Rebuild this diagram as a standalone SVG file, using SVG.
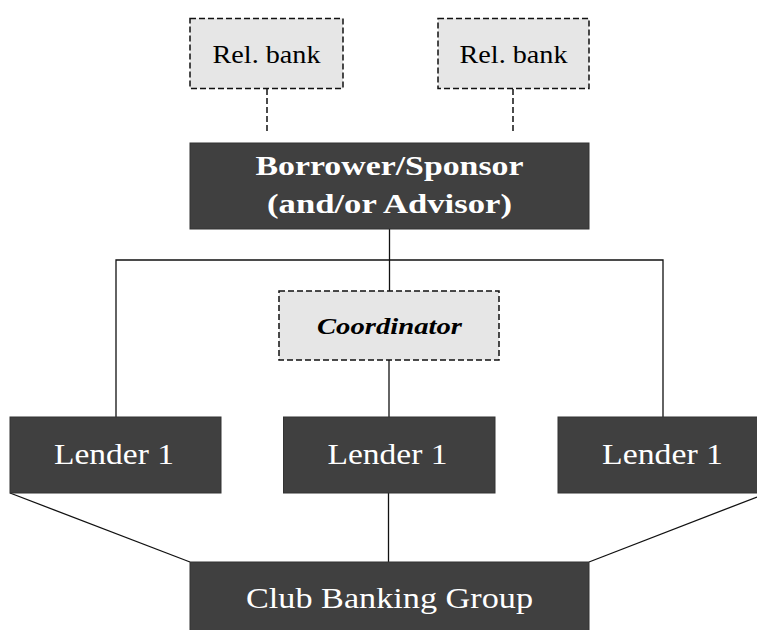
<svg xmlns="http://www.w3.org/2000/svg" width="757" height="630" viewBox="0 0 757 630">
<style>
.dark{fill:#404040;stroke:#333;stroke-width:1}
.light{fill:#e6e6e6;stroke:#111;stroke-width:1.5;stroke-dasharray:6,3}
.wt{fill:#fff;font-family:"Liberation Serif","Times New Roman",serif;text-anchor:middle}
.bt{fill:#000;font-family:"Liberation Serif","Times New Roman",serif;text-anchor:middle}
.ln{stroke:#111;stroke-width:1.3;fill:none}
.dl{stroke:#111;stroke-width:1.5;fill:none;stroke-dasharray:6,3}
</style>
<rect width="757" height="630" fill="#fff"/>
<g id="connectors">
<line class="dl" x1="267" y1="89" x2="267" y2="133"/>
<line class="dl" x1="513" y1="89" x2="513" y2="133"/>
<line class="ln" x1="389.5" y1="229" x2="389.5" y2="291"/>
<polyline class="ln" points="116,417 116,260 663,260 663,417"/>
<line class="ln" x1="389" y1="360" x2="389" y2="417"/>
<line class="ln" x1="10" y1="493" x2="190" y2="562"/>
<line class="ln" x1="757" y1="497" x2="589" y2="562"/>
<line class="ln" x1="388.5" y1="493" x2="388.5" y2="562"/>
</g>
<g id="relbank1">
<rect class="light" x="190" y="18.5" width="153" height="70"/>
<text class="bt" x="266.5" y="63" font-size="25" textLength="108" lengthAdjust="spacingAndGlyphs">Rel. bank</text>
</g>
<g id="relbank2">
<rect class="light" x="438" y="18.5" width="151" height="70"/>
<text class="bt" x="513.5" y="63" font-size="25" textLength="108" lengthAdjust="spacingAndGlyphs">Rel. bank</text>
</g>
<g id="borrower">
<rect class="dark" x="190" y="143" width="399" height="86" stroke="#222"/>
<text class="wt" x="389.5" y="175" font-size="28" font-weight="bold" textLength="268" lengthAdjust="spacingAndGlyphs">Borrower/Sponsor</text>
<text class="wt" x="389.5" y="213" font-size="28" font-weight="bold" textLength="245" lengthAdjust="spacingAndGlyphs">(and/or Advisor)</text>
</g>
<g id="coordinator">
<rect class="light" x="279" y="291" width="220" height="69"/>
<text class="bt" x="389.5" y="334" font-size="23" font-weight="bold" font-style="italic" textLength="145" lengthAdjust="spacingAndGlyphs">Coordinator</text>
</g>
<g id="lender-left">
<rect class="dark" x="10" y="417" width="211" height="76"/>
<text class="wt" x="114" y="464" font-size="29" textLength="120" lengthAdjust="spacingAndGlyphs">Lender 1</text>
</g>
<g id="lender-mid">
<rect class="dark" x="283.5" y="417" width="211.5" height="76"/>
<text class="wt" x="387.5" y="464" font-size="29" textLength="120" lengthAdjust="spacingAndGlyphs">Lender 1</text>
</g>
<g id="lender-right">
<rect class="dark" x="558" y="417" width="210" height="76"/>
<text class="wt" x="662.5" y="464" font-size="29" textLength="121" lengthAdjust="spacingAndGlyphs">Lender 1</text>
</g>
<g id="club">
<rect class="dark" x="190" y="562" width="399" height="80"/>
<text class="wt" x="389.5" y="608" font-size="29" textLength="287" lengthAdjust="spacingAndGlyphs">Club Banking Group</text>
</g>
</svg>
